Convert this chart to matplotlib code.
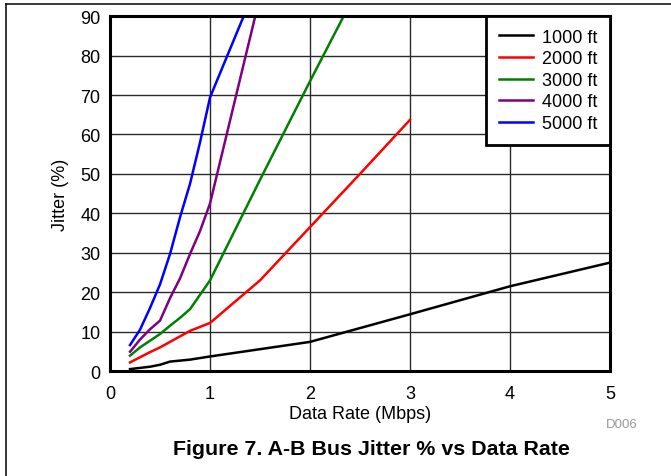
import matplotlib as mpl
mpl.use('Agg')
import matplotlib.pyplot as plt
from matplotlib.lines import Line2D

plt.rcParams['font.family'] = ['Liberation Sans', 'DejaVu Sans']

# Jitter (%) vs data rate (Mbps) for each cable length
rate_1000 = [0.2, 0.3, 0.4, 0.5, 0.6, 0.8, 1.0, 2.0, 3.0, 4.0, 5.0]
jitter_1000 = [0.5, 0.8, 1.1, 1.6, 2.4, 2.9, 3.7, 7.4, 14.4, 21.5, 27.5]

rate_2000 = [0.2, 0.3, 0.4, 0.5, 0.6, 0.7, 0.8, 1.0, 1.5, 2.0, 2.5, 3.0]
jitter_2000 = [2.2, 3.5, 4.8, 6.0, 7.4, 8.8, 10.2, 12.2, 23.0, 36.5, 50.0, 63.7]

rate_3000 = [0.2, 0.3, 0.4, 0.5, 0.6, 0.7, 0.8, 1.0, 1.5, 2.0, 2.5]
jitter_3000 = [3.9, 6.0, 7.7, 9.4, 11.5, 13.5, 15.7, 23.0, 48.5, 73.5, 98.0]

rate_4000 = [0.2, 0.3, 0.4, 0.5, 0.6, 0.7, 0.8, 0.9, 1.0, 1.5]
jitter_4000 = [4.9, 8.0, 10.6, 12.8, 18.5, 23.5, 29.7, 35.5, 42.5, 95.0]

rate_5000 = [0.2, 0.3, 0.4, 0.5, 0.6, 0.7, 0.8, 0.9, 1.0, 1.5]
jitter_5000 = [6.6, 10.5, 16.0, 22.0, 29.7, 39.0, 47.5, 58.0, 69.4, 100.0]

series = [
    (rate_1000, jitter_1000, "1000 ft", "black"),
    (rate_2000, jitter_2000, "2000 ft", "#ff0000"),
    (rate_3000, jitter_3000, "3000 ft", "#008000"),
    (rate_4000, jitter_4000, "4000 ft", "#800080"),
    (rate_5000, jitter_5000, "5000 ft", "#0000ff"),
]

fig = plt.figure(figsize=(6.71, 4.77), dpi=100)
ax = fig.add_axes([0.164, 0.220, 0.745, 0.744])

for x, y, label, color in series:
    ax.plot(x, y, color=color, lw=1.8, label=label, solid_joinstyle='round')

ax.set_xlim(0, 5)
ax.set_ylim(0, 90)
ax.set_xticks(range(0, 6))
ax.set_yticks(range(0, 91, 10))
ax.tick_params(length=0, labelsize=13)
ax.tick_params(axis='x', pad=10)
ax.tick_params(axis='y', pad=7)
ax.grid(True, color='#2a2a2a', lw=1.0)
ax.set_axisbelow(True)
for sp in ax.spines.values():
    sp.set_linewidth(2.2)

ax.set_xlabel("Data Rate (Mbps)", fontsize=13, labelpad=2)
ax.set_ylabel("Jitter (%)", fontsize=13, labelpad=8)

leg = ax.legend(loc='upper right', borderaxespad=0, fancybox=False,
                edgecolor='black', fontsize=13, handlelength=1.9,
                handletextpad=0.5, labelspacing=0.25, borderpad=0.7,
                framealpha=1)
leg.get_frame().set_linewidth(2.0)

fig.text(0.927, 0.109, "D006", color='#999999', fontsize=9.5, ha='center', va='center')
fig.text(0.553, 0.057, "Figure 7. A-B Bus Jitter % vs Data Rate",
         fontsize=15.4, fontweight='bold', ha='center', va='center')

# page frame along the top and left edges
fig.add_artist(Line2D([6 / 671, 1], [1 - 5 / 477, 1 - 5 / 477], color='black', lw=1.1))
fig.add_artist(Line2D([6 / 671, 6 / 671], [0, 1 - 5 / 477], color='black', lw=1.1))

fig.savefig("out.png", dpi=100)
